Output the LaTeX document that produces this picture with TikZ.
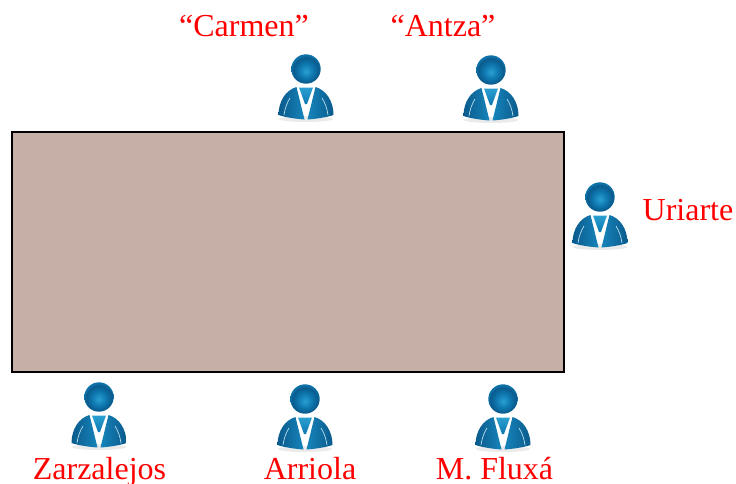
\documentclass[tikz,border=0pt]{standalone}
\usepackage{fontspec}
\setmainfont{Liberation Serif}
\definecolor{tablefill}{HTML}{C6AFA7}
\definecolor{nameRed}{HTML}{FF0000}
\definecolor{iconDark}{HTML}{0A5A8C}
\definecolor{iconMid}{HTML}{0E78B0}
\definecolor{iconLight}{HTML}{2AA0D2}
\pgfdeclareradialshading{headball}{\pgfpoint{0bp}{-4bp}}{
  color(0bp)=(iconLight);
  color(12bp)=(iconMid);
  color(22bp)=(iconDark);
  color(25bp)=(iconMid!80!iconDark);
  color(50bp)=(iconMid!80!iconDark)}
\tikzset{
  tablebox/.style={draw=black,line width=1.5pt,fill=tablefill,rectangle,inner sep=0pt,minimum width=552*0.75pt,minimum height=240*0.75pt,anchor=north west},
  namelabel/.style={text=nameRed,font=\fontsize{24}{26}\selectfont,inner sep=0pt,anchor=base},
  person/.pic={
    \fill[black!8] (0,50) ellipse (27 and 3);
    \shade[shading=headball] (0,0) circle (14.7);
    \shade[top color=iconLight,bottom color=iconMid] (-7,18.5) -- (7,18.5) -- (1,35) -- (-1,35) -- cycle;
    \shade[left color=iconDark,right color=iconMid!70!iconLight]
      (-9.5,18) .. controls (-20,21) and (-27.5,32) .. (-27.5,46)
      .. controls (-20,48.5) and (-9,50) .. (-1.5,50.5) -- cycle;
    \shade[right color=iconDark,left color=iconMid!70!iconLight]
      (9.5,18) .. controls (20,21) and (27.5,32) .. (27.5,46)
      .. controls (20,48.5) and (9,50) .. (1.5,50.5) -- cycle;
    \draw[white!70!iconLight,line width=0.5pt] (-22,46) .. controls (-21,39) and (-19,34) .. (-16,29);
    \draw[white!70!iconLight,line width=0.5pt] (22,46) .. controls (21,39) and (19,34) .. (16,29);
  }
}
\begin{document}
\begin{tikzpicture}[x=0.75pt,y=-0.75pt]
\useasboundingbox (0,0) rectangle (736,483);
\node[tablebox] (tbl) at (11,131) {};
\pic at (306,69) {person};
\pic at (491,70) {person};
\pic at (600,197) {person};
\pic at (99,397) {person};
\pic at (305,399) {person};
\pic at (503,399) {person};
\node[namelabel] (carmen) at (244,36) {“Carmen”};
\node[namelabel] (antza) at (443,36) {“Antza”};
\node[namelabel] (uriarte) at (688,220) {Uriarte};
\node[namelabel] (zarzalejos) at (99.5,479) {Zarzalejos};
\node[namelabel] (arriola) at (310,479) {Arriola};
\node[namelabel] (fluxa) at (494.5,479) {M. Fluxá};
\end{tikzpicture}
\end{document}
